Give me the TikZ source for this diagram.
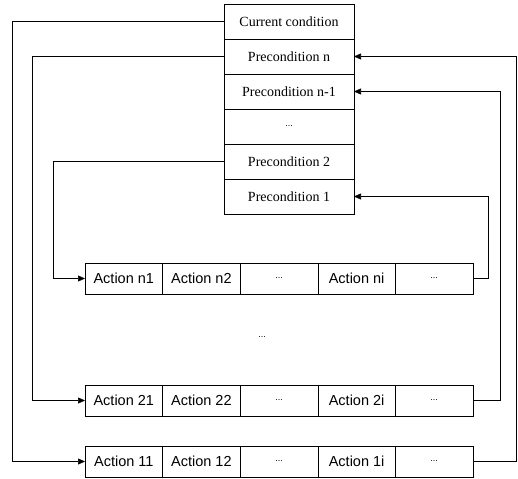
\documentclass[tikz,border=0pt]{standalone}
\usepackage{fontspec}
\setmainfont{Liberation Serif}
\setsansfont{Liberation Sans}
\usetikzlibrary{arrows.meta}
\begin{document}
\begin{tikzpicture}[x=1pt,y=1pt,
  cond/.style={draw, line width=0.6pt, rectangle, inner sep=0pt, outer sep=0pt,
    minimum width=130pt, minimum height=35pt, font=\fontsize{14}{16}\selectfont},
  act/.style={draw, line width=0.6pt, rectangle, inner sep=0pt, outer sep=0pt,
    minimum width=77.6pt, minimum height=31pt, font=\sffamily\fontsize{14.5}{16}\selectfont},
  dots/.style={font=\sffamily\fontsize{9}{10}\selectfont},
  arr/.style={line width=0.6pt, -{Triangle[length=7pt,width=6pt]}}]
\useasboundingbox (0,0) rectangle (518,-478);
% condition stack
\node[cond] (cur) at (289,-21.5) {Current condition};
\node[cond] (pn)  at (289,-56.5) {Precondition n};
\node[cond] (pn1) at (289,-91.5) {Precondition n-1};
\node[cond, dots] (pd)  at (289,-126.5) {...};
\node[cond] (p2)  at (289,-161.5) {Precondition 2};
\node[cond] (p1)  at (289,-196.5) {Precondition 1};
% action rows
\foreach \r/\y/\a/\b/\c in {n/-278.5/Action n1/Action n2/Action ni, t/-400.5/Action 21/Action 22/Action 2i, o/-461.5/Action 11/Action 12/Action 1i}{
  \node[act] (\r1) at (123.8,\y) {\a};
  \node[act] (\r2) at (201.4,\y) {\b};
  \node[act, dots] (\r3) at (279.0,\y) {...};
  \node[act] (\r4) at (356.6,\y) {\c};
  \node[act, dots] (\r5) at (434.2,\y) {...};
}
\node[dots] (mid) at (262,-337) {...};
% left connectors
\coordinate (L1) at (12,0);
\coordinate (L2) at (32,0);
\coordinate (L3) at (53,0);
\draw[arr] (cur.west) -- (cur.west -| L1) |- (o1.west);
\draw[arr] (pn.west) -- (pn.west -| L2) |- (t1.west);
\draw[arr] (p2.west) -- (p2.west -| L3) |- (n1.west);
% right connectors
\coordinate (R1) at (488,0);
\coordinate (R2) at (500,0);
\coordinate (R3) at (516,0);
\draw[arr] (n5.east) -- (n5.east -| R1) |- (p1.east);
\draw[arr] (t5.east) -- (t5.east -| R2) |- (pn1.east);
\draw[arr] (o5.east) -- (o5.east -| R3) |- (pn.east);
\end{tikzpicture}
\end{document}
